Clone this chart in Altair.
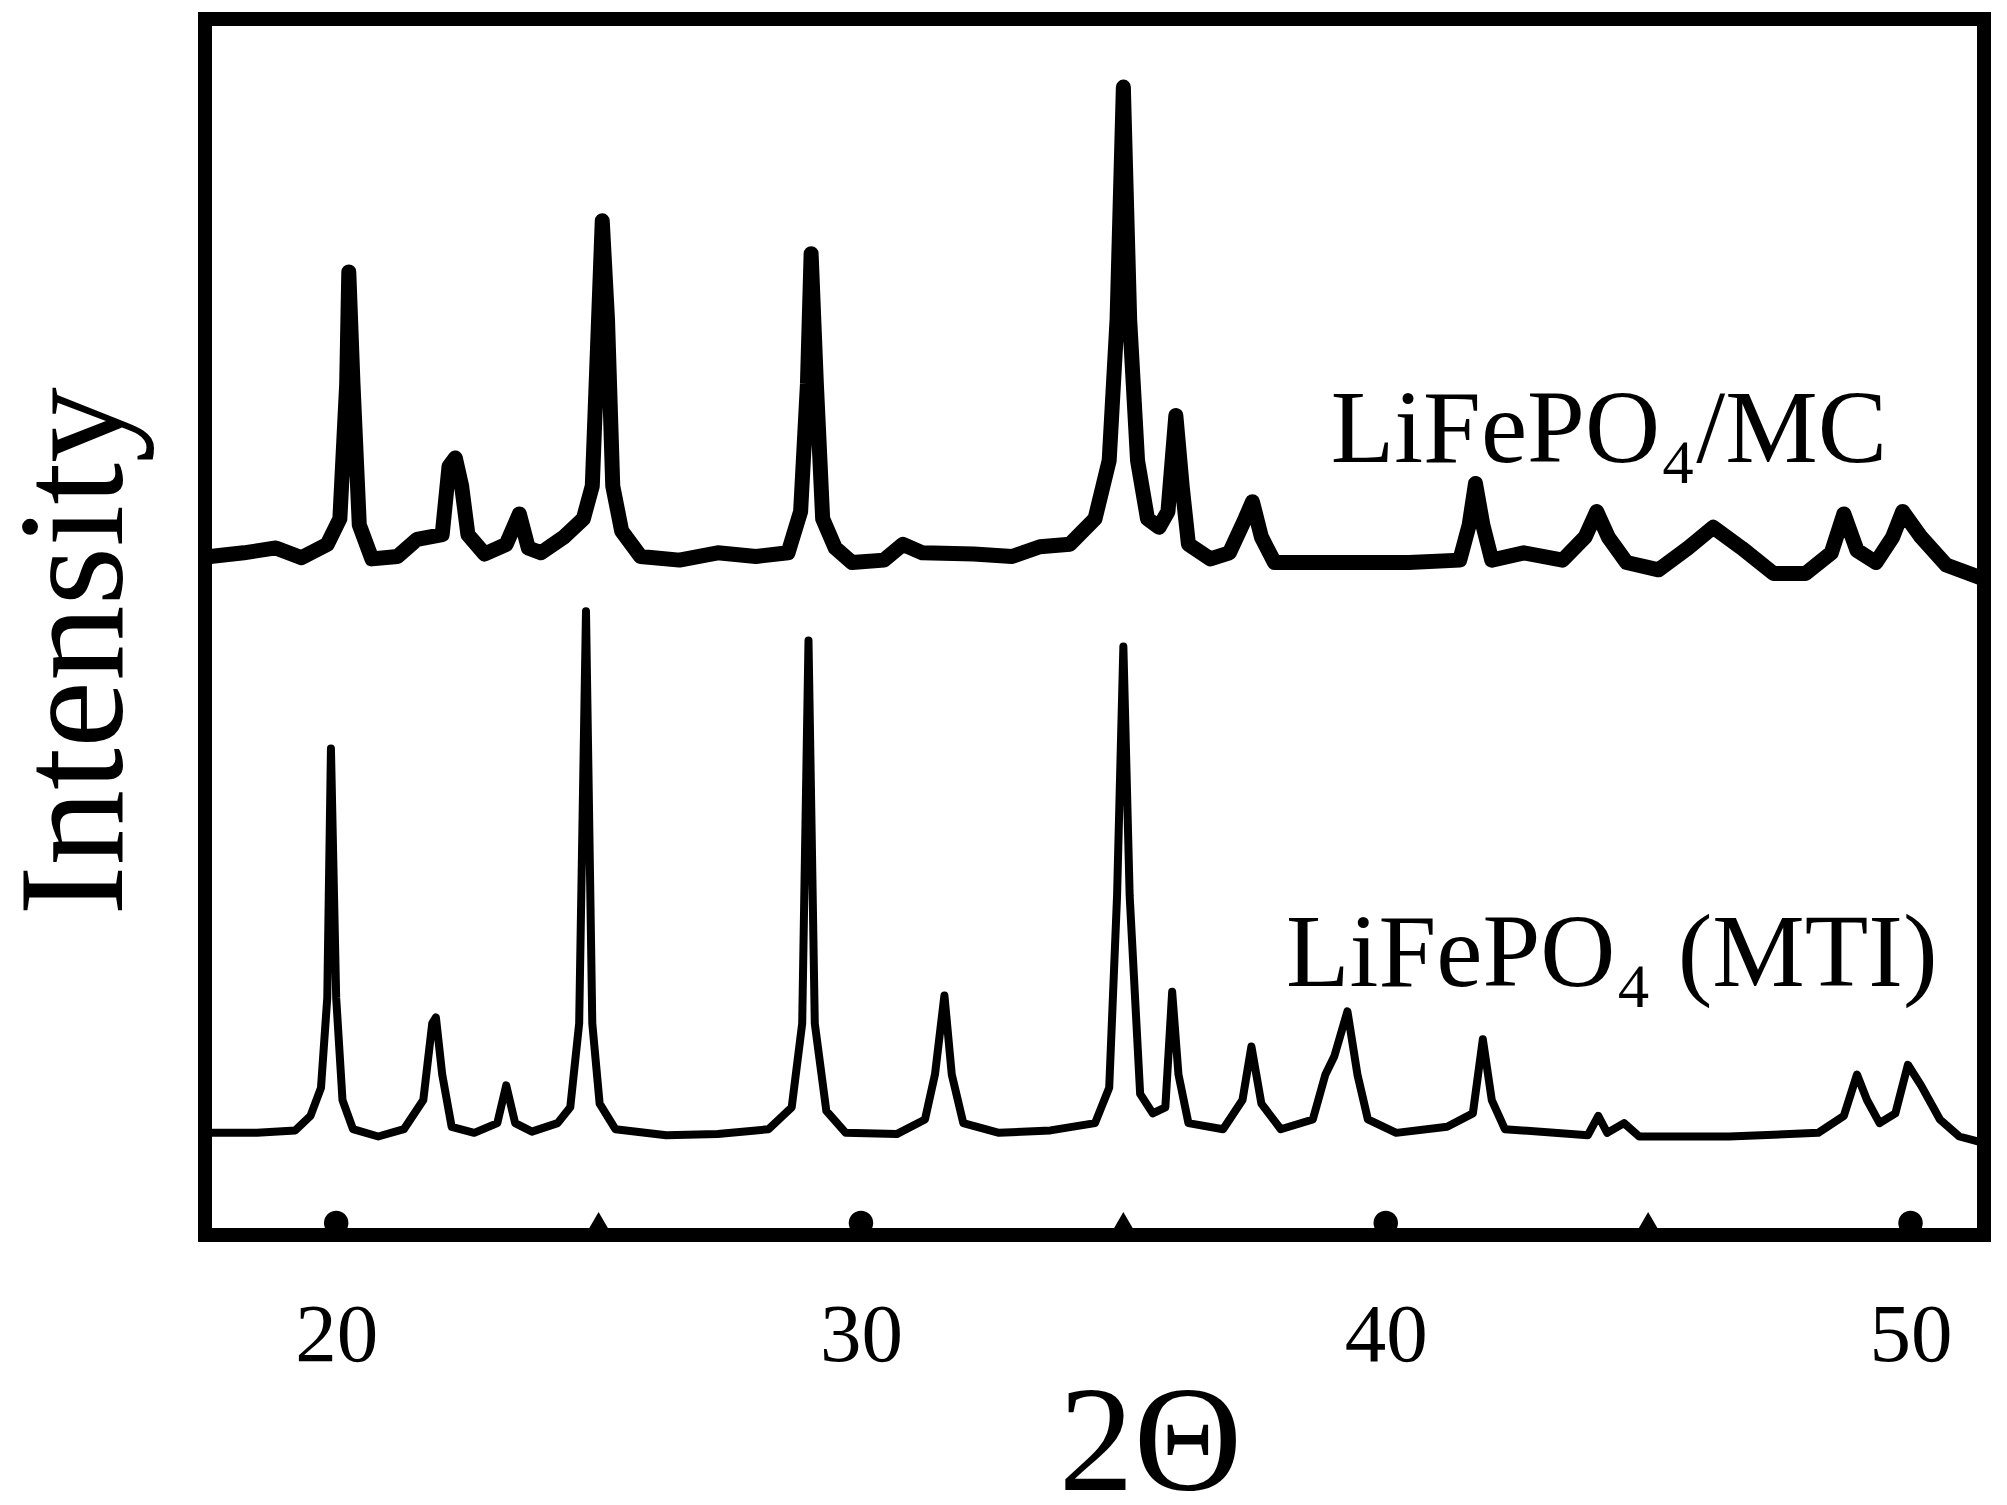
import altair as alt
import pandas as pd

# ---- data (2-theta in degrees, intensity in a.u., frame = 0..100) ----
mc_2theta = [17.6, 18.24, 18.85, 19.34, 19.83, 20.07, 20.2, 20.24, 20.32, 20.44,
             20.68, 21.17, 21.54, 22.02, 22.15, 22.27, 22.39, 22.51, 22.83, 23.24,
             23.49, 23.66, 23.9, 24.34, 24.71, 24.88, 25.0, 25.07, 25.17, 25.27,
             25.44, 25.8, 26.54, 27.27, 28.0, 28.61, 28.85, 28.98, 29.05, 29.15,
             29.27, 29.51, 29.83, 30.44, 30.8, 31.17, 32.15, 32.88, 33.41, 33.98,
             34.46, 34.73, 34.88, 35.0, 35.12, 35.27, 35.46, 35.68, 35.85, 36.0,
             36.12, 36.24, 36.66, 37.02, 37.32, 37.46, 37.63, 37.88, 39.22, 40.44,
             41.41, 41.59, 41.71, 41.85, 42.02, 42.63, 43.37, 43.8, 44.02, 44.24,
             44.59, 45.2, 45.76, 46.24, 46.78, 47.39, 48.0, 48.49, 48.73, 48.98,
             49.34, 49.66, 49.85, 50.2, 50.68, 51.37]
mc_intensity = [55.8, 56.1, 56.5, 55.7, 56.8, 58.9, 70, 79.2, 70, 58.4,
                55.6, 55.8, 57.2, 57.6, 63.2, 63.9, 61.6, 57.6, 56.0, 56.8,
                59.3, 56.5, 56.1, 57.4, 58.9, 61.6, 75.3, 83.4, 75.3, 61.6,
                57.9, 55.8, 55.5, 56.1, 55.8, 56.1, 59.5, 70, 80.7, 70,
                58.9, 56.5, 55.3, 55.5, 56.8, 56.1, 56.0, 55.8, 56.6, 56.8,
                58.9, 63.7, 75.3, 94.4, 75.3, 63.7, 58.9, 58.2, 59.5, 67.4,
                61.6, 56.8, 55.6, 56.1, 58.9, 60.3, 57.4, 55.3, 55.3, 55.3,
                55.5, 58.4, 61.8, 58.4, 55.5, 56.1, 55.5, 57.4, 59.5, 57.4,
                55.3, 54.7, 56.5, 58.2, 56.5, 54.4, 54.4, 56.1, 59.3, 56.3,
                55.3, 57.4, 59.5, 57.4, 55.1, 54.0]

mti_2theta = [17.63, 18.49, 19.22, 19.51, 19.71, 19.83, 19.9, 20.0, 20.12, 20.32,
              20.8, 21.29, 21.66, 21.83, 21.9, 22.02, 22.2, 22.63, 23.07, 23.24,
              23.41, 23.73, 24.22, 24.46, 24.63, 24.76, 24.88, 25.02, 25.32, 26.29,
              27.27, 28.24, 28.68, 28.88, 29.0, 29.12, 29.34, 29.71, 30.68, 31.22,
              31.41, 31.59, 31.73, 31.95, 32.63, 33.61, 34.46, 34.73, 34.88, 35.0,
              35.12, 35.32, 35.56, 35.8, 35.93, 36.05, 36.24, 36.9, 37.27, 37.44,
              37.63, 38.0, 38.61, 38.85, 39.02, 39.27, 39.46, 39.66, 40.2, 41.17,
              41.66, 41.85, 42.02, 42.27, 43.85, 44.05, 44.22, 44.54, 44.83, 46.54,
              48.24, 48.73, 48.98, 49.17, 49.41, 49.71, 49.95, 50.2, 50.56, 50.93,
              51.37]
mti_intensity = [8.4, 8.4, 8.6, 9.8, 12.1, 19.5, 40.0, 19.5, 11.1, 8.7,
                 8.1, 8.7, 11.1, 17.4, 17.9, 13.2, 8.9, 8.4, 9.2, 12.3,
                 9.2, 8.5, 9.2, 10.5, 17.4, 51.3, 17.4, 10.8, 8.7, 8.2,
                 8.3, 8.7, 10.5, 17.4, 48.9, 17.4, 10.2, 8.4, 8.3, 9.5,
                 13.2, 19.7, 13.2, 9.2, 8.4, 8.6, 9.2, 12.1, 27.9, 48.4,
                 27.9, 11.6, 10.0, 10.5, 20.0, 13.2, 9.2, 8.7, 11.1, 15.5,
                 10.8, 8.7, 9.5, 13.2, 14.7, 18.4, 13.2, 9.5, 8.4, 8.9,
                 10.0, 16.1, 11.1, 8.7, 8.2, 9.8, 8.4, 9.2, 8.1, 8.1,
                 8.4, 9.8, 13.2, 11.1, 9.2, 10.0, 14.0, 12.3, 9.5, 8.1,
                 7.6]

tick_values = [20, 30, 40, 50]
minor_tick_values = [25, 35, 45]

label_texts = ["LiFePO\u2084/MC", "LiFePO\u2084 (MTI)"]
label_2theta = [38.95, 38.1]
label_intensity = [63.6, 20.5]

# ---- frames ----
mc = pd.DataFrame({"two_theta": mc_2theta, "intensity": mc_intensity})
mti = pd.DataFrame({"two_theta": mti_2theta, "intensity": mti_intensity})
major = pd.DataFrame({"two_theta": tick_values, "intensity": [0] * len(tick_values)})
minor = pd.DataFrame({"two_theta": minor_tick_values, "intensity": [0] * len(minor_tick_values)})
labels = pd.DataFrame({"two_theta": label_2theta, "intensity": label_intensity, "text": label_texts})

FONT = "Liberation Serif"

x_scale = alt.Scale(domain=[17.5, 51.4], nice=False, zero=False)
y_scale = alt.Scale(domain=[0, 100], nice=False, zero=False)

x_axis = alt.Axis(
    values=tick_values, title="2\u0398", domain=False, ticks=False, grid=False,
    labelFont=FONT, labelFontSize=83, labelPadding=59, labelColor="black",
    labelFlush=False, labelOverlap=False,
    titleFont=FONT, titleFontSize=150, titleFontWeight="normal", titleColor="black",
    titleX=945, titleY=254, titleAlign="center", titleBaseline="alphabetic",
)
y_axis = alt.Axis(
    title="Intensity", domain=False, ticks=False, labels=False, grid=False,
    titleFont=FONT, titleFontSize=151, titleFontWeight="normal", titleColor="black",
    titleAngle=270, titleX=-84, titleY=632, titleAlign="center", titleBaseline="alphabetic",
)

X = alt.X("two_theta:Q", scale=x_scale, axis=x_axis)
Y = alt.Y("intensity:Q", scale=y_scale, axis=y_axis)

mc_line = alt.Chart(mc).mark_line(
    color="black", strokeWidth=15, strokeCap="round", strokeJoin="round", clip=True
).encode(x=X, y=Y)

mti_line = alt.Chart(mti).mark_line(
    color="black", strokeWidth=8, strokeCap="round", strokeJoin="round", clip=True
).encode(x=X, y=Y)

major_marks = alt.Chart(major).mark_point(
    shape="circle", filled=True, size=600, color="black", opacity=1, yOffset=-12
).encode(x=X, y=Y)

minor_marks = alt.Chart(minor).mark_point(
    shape="triangle-up", filled=True, size=650, color="black", opacity=1, yOffset=-12
).encode(x=X, y=Y)

text_marks = alt.Chart(labels).mark_text(
    font=FONT, fontSize=104, align="left", baseline="alphabetic", color="black"
).encode(x=X, y=Y, text="text:N")

chart = alt.layer(mc_line, mti_line, major_marks, minor_marks, text_marks).properties(
    width=1779,
    height=1216,
    padding={"left": 197, "top": 11, "right": 15, "bottom": 262},
    autosize=alt.AutoSizeParams(type="none"),
    background="white",
).configure_view(stroke="black", strokeWidth=14)

chart.save("out.html", embed_options={"renderer": "svg", "actions": False})
